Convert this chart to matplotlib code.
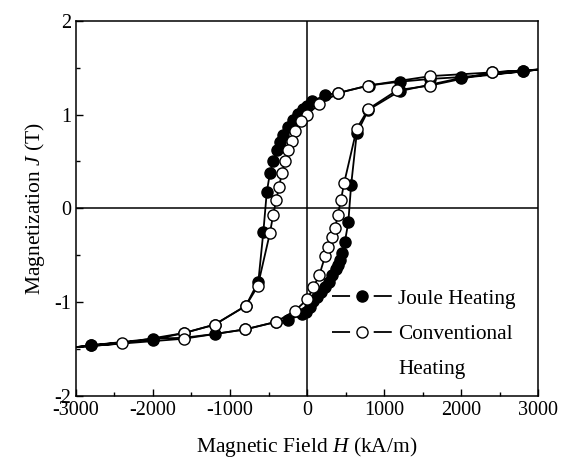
import numpy as np
import matplotlib
matplotlib.use("Agg")
import matplotlib.pyplot as plt
from matplotlib.lines import Line2D
from matplotlib.legend_handler import HandlerTuple

plt.rcParams["font.family"] = ["Liberation Serif", "DejaVu Serif"]
plt.rcParams["mathtext.fontset"] = "custom"
plt.rcParams["mathtext.rm"] = "Liberation Serif"
plt.rcParams["mathtext.it"] = "Liberation Serif:italic"
plt.rcParams["axes.unicode_minus"] = False

# Joule heating loop: descending branch then ascending branch (H in kA/m, J in T)
joule_h = [3000, 2800, 2000, 1600, 1200, 800, 400, 234, 69, 0, -48, -113, -178, -242,
           -307, -351, -394, -437, -481, -523, -567, -632, -795, -1200, -1600, -2000,
           -2800, -3000,
           -2800, -2000, -1600, -1200, -800, -400, -242, -60, -10, 39, 82, 130, 180,
           230, 280, 330, 370, 400, 425, 450, 490, 535, 572, 645, 796, 1200, 1600,
           2000, 2800, 3000]
joule_j = [1.48, 1.46, 1.40, 1.38, 1.35, 1.31, 1.23, 1.21, 1.14, 1.09, 1.06, 1.01, 0.94,
           0.87, 0.78, 0.71, 0.62, 0.50, 0.38, 0.17, -0.25, -0.78, -1.04, -1.24, -1.33,
           -1.40, -1.46, -1.48,
           -1.46, -1.39, -1.38, -1.34, -1.29, -1.21, -1.19, -1.13, -1.11, -1.05, -0.99,
           -0.94, -0.89, -0.84, -0.78, -0.71, -0.65, -0.60, -0.55, -0.48, -0.36, -0.15,
           0.25, 0.80, 1.05, 1.25, 1.32, 1.39, 1.46, 1.48]

# conventional heating loop
conv_h = [3000, 2400, 1600, 796, 407, 156, 0, -82, -156, -199, -242, -286, -325, -364,
          -400, -440, -481, -640, -795, -1200, -1600, -2400, -3000,
          -1600, -800, -400, -156, 4, 82, 160, 234, 277, 321, 364, 398, 440, 481,
          645, 796, 1170, 1600, 2400, 3000]
conv_j = [1.48, 1.45, 1.41, 1.31, 1.23, 1.11, 1.00, 0.93, 0.82, 0.72, 0.62, 0.50, 0.38,
          0.23, 0.09, -0.07, -0.26, -0.83, -1.04, -1.24, -1.33, -1.44, -1.48,
          -1.39, -1.29, -1.21, -1.09, -0.97, -0.84, -0.71, -0.51, -0.41, -0.31, -0.21,
          -0.07, 0.09, 0.27, 0.85, 1.06, 1.26, 1.31, 1.45, 1.48]

fig, ax = plt.subplots(figsize=(5.66, 4.62), dpi=100)
fig.subplots_adjust(left=0.134, right=0.951, top=0.955, bottom=0.143)

ax.axhline(0, color="black", lw=1.1, zorder=1)
ax.axvline(0, color="black", lw=1.1, zorder=1)

# loop ends run to the frame without a marker
ax.plot(joule_h, joule_j, color="black", lw=1.3, marker="o", ms=8,
        mfc="black", mec="black", mew=1.0,
        markevery=[i for i in range(len(joule_h)) if i not in (0, 27, len(joule_h) - 1)],
        zorder=3)
ax.plot(conv_h, conv_j, color="black", lw=1.3, marker="o", ms=8,
        mfc="white", mec="black", mew=1.0,
        markevery=[i for i in range(len(conv_h)) if i not in (0, 22, len(conv_h) - 1)],
        zorder=4)

ax.set_xlim(-3000, 3000)
ax.set_ylim(-2, 2)
ax.set_xticks(np.arange(-3000, 3001, 1000))
ax.set_xticks(np.arange(-2500, 3000, 1000), minor=True)
ax.set_yticks([-2, -1, 0, 1, 2])
ax.set_yticks([-1.5, -0.5, 0.5, 1.5], minor=True)
ax.tick_params(which="both", direction="in", labelsize=14.5, top=False, right=False)
ax.tick_params(which="major", length=5, width=1)
ax.tick_params(which="minor", length=3, width=1)
for s in ax.spines.values():
    s.set_linewidth(1.1)

ax.set_xlabel(r"Magnetic Field $H$ (kA/m)", fontsize=15.5, labelpad=11)
ax.set_ylabel(r"Magnetization $J$ (T)", fontsize=15.5, labelpad=5)

# legend handles: "—●—" with small gaps around the marker
seg = Line2D([], [], color="black", lw=1.3, dashes=(10, 13.1))
j_mark = Line2D([], [], ls="none", marker="o", ms=8, mfc="black", mec="black")
c_mark = Line2D([], [], ls="none", marker="o", ms=8, mfc="white", mec="black")
blank = Line2D([], [], color="none")
leg = ax.legend([(seg, j_mark), (seg, c_mark), blank],
                ["Joule Heating", "Conventional", "Heating"],
                handler_map={tuple: HandlerTuple(ndivide=1)},
                loc="upper left", bbox_to_anchor=(0.555, 0.285), frameon=False,
                fontsize=15.3, handlelength=2.8, handletextpad=0.3, labelspacing=0.72,
                numpoints=1, borderpad=0, borderaxespad=0)

fig.savefig("out.png", dpi=100)
